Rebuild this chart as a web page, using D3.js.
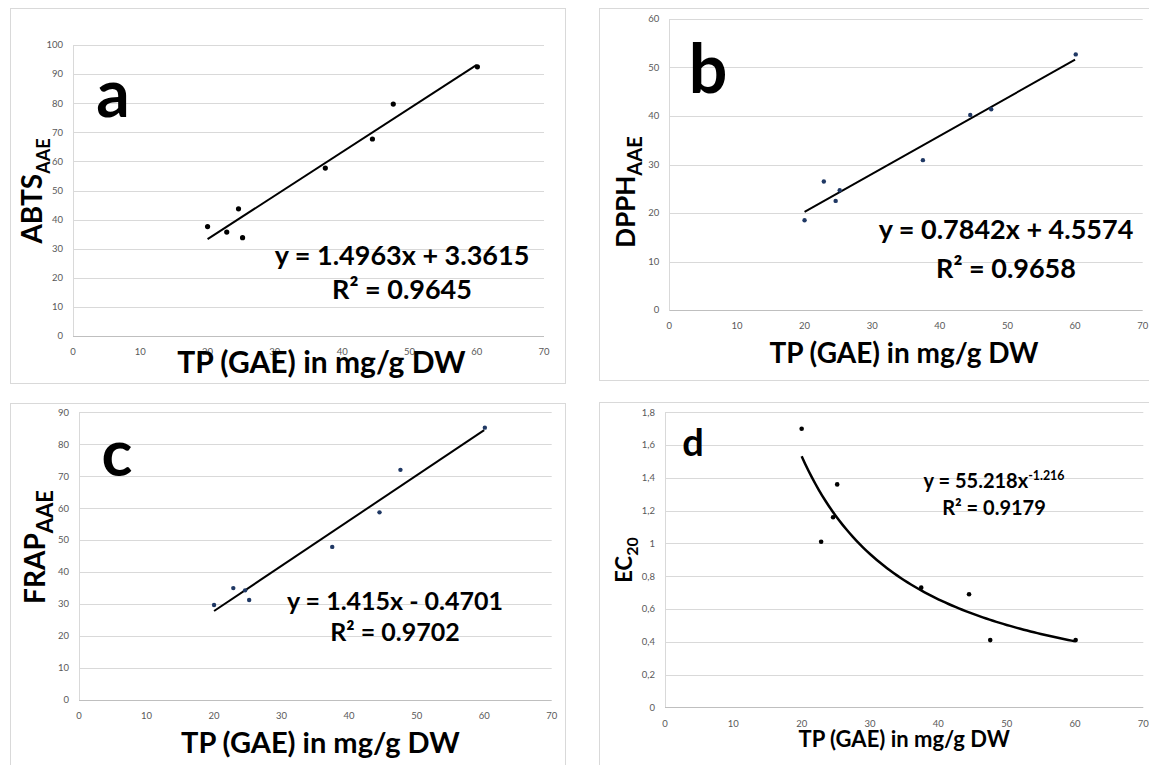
<!DOCTYPE html>
<html lang="en">
<head>
  <meta charset="UTF-8">
  <title>TP correlations</title>
  <script src="https://cdn.jsdelivr.net/npm/d3@7"></script>
  <style>
    body { margin: 0; background: #fff; }
    text { font-family: Lato, "Open Sans", sans-serif; }
  </style>
</head>
<body>
<script>
// total phenolics (x), shared by all four panels
var tp = [20, 22.85, 24.6, 25.2, 37.5, 44.5, 47.6, 60.1];
var abts = [37.6, 35.7, 43.7, 33.8, 57.7, 67.7, 79.7, 92.5];
var dpph = [18.5, 26.5, 22.5, 24.7, 30.9, 40.2, 41.4, 52.7];
var frap = [29.7, 35.0, 34.3, 31.3, 47.9, 58.7, 72.0, 85.2];
var ec20 = [1.70, 1.01, 1.16, 1.36, 0.73, 0.69, 0.41, 0.41];

var xTicks = [0, 10, 20, 30, 40, 50, 60, 70];
var yTicksA = [0, 10, 20, 30, 40, 50, 60, 70, 80, 90, 100];
var yTicksB = [0, 10, 20, 30, 40, 50, 60];
var yTicksC = [0, 10, 20, 30, 40, 50, 60, 70, 80, 90];
var yTicksD = [0, 0.2, 0.4, 0.6, 0.8, 1, 1.2, 1.4, 1.6, 1.8];

// trend lines: linear [slope, intercept], power [coef, exponent]
var trendRange = [20, 60];
var trendA = [1.4963, 3.3615];
var trendB = [0.7842, 4.5574];
var trendC = [1.415, -0.4701];
var trendD = [58.5, -1.216];

var eqA = ["y = 1.4963x + 3.3615", "R\u00b2 = 0.9645"];
var eqB = ["y = 0.7842x + 4.5574", "R\u00b2 = 0.9658"];
var eqC = ["y = 1.415x - 0.4701", "R\u00b2 = 0.9702"];
var eqD = ["y = 55.218x", "-1.216", "R\u00b2 = 0.9179"];

var width = 1149, height = 765;
var svg = d3.select("body").append("svg")
    .attr("width", width).attr("height", height);

function panel(p) {
  var g = svg.append("g");
  g.append("rect")
    .attr("x", p.box[0] + 0.5).attr("y", p.box[1] + 0.5)
    .attr("width", p.box[2]).attr("height", p.box[3])
    .attr("fill", "#fff").attr("stroke", "#d9d9d9");

  var x = d3.scaleLinear().domain([0, 70]).range([p.plot[0], p.plot[1]]);
  var y = d3.scaleLinear().domain([0, p.ymax]).range([p.plot[3], p.plot[2]]);

  // horizontal grid
  g.selectAll(".grid").data(p.yTicks.slice(1)).enter().append("line")
    .attr("x1", x(0)).attr("x2", x(70))
    .attr("y1", function(d) { return Math.round(y(d)) + 0.5; })
    .attr("y2", function(d) { return Math.round(y(d)) + 0.5; })
    .attr("stroke", "#d9d9d9").attr("stroke-width", 1);
  g.append("line")
    .attr("x1", Math.round(x(0)) + 0.5).attr("x2", Math.round(x(0)) + 0.5)
    .attr("y1", y(p.ymax)).attr("y2", y(0))
    .attr("stroke", "#d9d9d9");
  g.append("line")
    .attr("x1", x(0)).attr("x2", x(70))
    .attr("y1", Math.round(y(0)) + 0.5).attr("y2", Math.round(y(0)) + 0.5)
    .attr("stroke", "#bfbfbf");

  // tick labels
  g.selectAll(".yt").data(p.yTicks).enter().append("text")
    .attr("x", x(0) - 10).attr("y", function(d) { return y(d); })
    .attr("dy", "0.35em").attr("text-anchor", "end")
    .attr("font-size", 9.5).attr("fill", "#595959")
    .text(p.fmt);
  g.selectAll(".xt").data(xTicks).enter().append("text")
    .attr("x", function(d) { return x(d); }).attr("y", y(0) + 16)
    .attr("dy", "0.35em").attr("text-anchor", "middle")
    .attr("font-size", 9.5).attr("fill", "#595959")
    .text(function(d) { return d; });

  // trend line
  var pts;
  if (p.power) {
    pts = d3.range(trendRange[0], trendRange[1] + 0.5, 0.5).map(function(v) {
      return [v, p.trend[0] * Math.pow(v, p.trend[1])];
    });
  } else {
    pts = trendRange.map(function(v) { return [v, p.trend[0] * v + p.trend[1]]; });
  }
  g.append("path")
    .attr("d", d3.line().x(function(d) { return x(d[0]); }).y(function(d) { return y(d[1]); })(pts))
    .attr("fill", "none").attr("stroke", "#000").attr("stroke-width", p.lw);

  // points
  g.selectAll(".pt").data(tp).enter().append("circle")
    .attr("cx", function(d) { return x(d); })
    .attr("cy", function(d, i) { return y(p.values[i]); })
    .attr("r", p.r).attr("fill", p.dot);

  // big panel letter
  g.append("text").attr("x", p.letter[0]).attr("y", p.letter[1])
    .attr("text-anchor", "middle").attr("font-weight", "bold")
    .attr("font-size", p.letter[2]).attr("fill", "#000").text(p.name);

  // axis titles
  g.append("text").attr("x", (p.plot[0] + p.plot[1]) / 2 + p.xt[0]).attr("y", p.xt[1])
    .attr("text-anchor", "middle").attr("font-weight", "bold")
    .attr("font-size", p.xt[2]).text("TP (GAE) in mg/g DW");
  var yt = g.append("text")
    .attr("transform", "translate(" + p.yt[0] + "," + p.yt[1] + ") rotate(-90)")
    .attr("text-anchor", "middle").attr("font-weight", "bold")
    .attr("font-size", p.yt[2]);
  yt.append("tspan").text(p.ylab[0]);
  yt.append("tspan").attr("dy", p.yt[2] * 0.28).attr("font-size", p.yt[3]).text(p.ylab[1]);

  // equation
  var eq = g.append("text").attr("text-anchor", "middle").attr("font-weight", "bold")
    .attr("font-size", p.eq[3]);
  if (p.power) {
    var l1 = eq.append("tspan").attr("x", p.eq[0]).attr("y", p.eq[1]);
    l1.append("tspan").text(p.eqText[0]);
    l1.append("tspan").attr("dy", -8).attr("font-size", p.eq[3] * 0.62).text(p.eqText[1]);
    eq.append("tspan").attr("x", p.eq[0]).attr("y", p.eq[2]).text(p.eqText[2]);
  } else {
    eq.append("tspan").attr("x", p.eq[0]).attr("y", p.eq[1]).text(p.eqText[0]);
    eq.append("tspan").attr("x", p.eq[0]).attr("y", p.eq[2]).text(p.eqText[1]);
  }
}

var fmtInt = function(d) { return d; };
var fmtComma = function(d) { return String(+d.toFixed(1)).replace(".", ","); };

panel({ name: "a", box: [10, 8, 555, 375], plot: [73, 544, 45, 336], ymax: 100,
  yTicks: yTicksA, fmt: fmtInt, values: abts, trend: trendA, lw: 2, r: 2.6, dot: "#000",
  letter: [113, 117, 66], xt: [13, 373, 30], yt: [42, 191, 28, 18], ylab: ["ABTS", "AAE"],
  eq: [402, 265, 299, 27], eqText: eqA });

panel({ name: "b", box: [599, 8, 600, 372], plot: [669.3, 1142.7, 19, 310], ymax: 60,
  yTicks: yTicksB, fmt: fmtInt, values: dpph, trend: trendB, lw: 2, r: 2.2, dot: "#1f3864",
  letter: [708, 93, 68], xt: [-2, 363, 28], yt: [635, 192, 26, 20], ylab: ["DPPH", "AAE"],
  eq: [1006, 239, 278, 27], eqText: eqB });

panel({ name: "c", box: [10, 403, 555, 400], plot: [79, 551.7, 412.3, 700], ymax: 90,
  yTicks: yTicksC, fmt: fmtInt, values: frap, trend: trendC, lw: 2, r: 2.2, dot: "#1f3864",
  letter: [117, 476, 64], xt: [5, 753, 29], yt: [45, 547, 28, 22], ylab: ["FRAP", "AAE"],
  eq: [395, 610, 641, 25], eqText: eqC });

panel({ name: "d", box: [599, 402, 600, 400], plot: [665, 1143.3, 412.3, 707.3], ymax: 1.8,
  yTicks: yTicksD, fmt: fmtComma, values: ec20, trend: trendD, power: true, lw: 2.5, r: 2.3, dot: "#000",
  letter: [693, 456, 38], xt: [0, 747, 22], yt: [632, 560, 22, 16], ylab: ["EC", "20"],
  eq: [994, 488, 515, 20], eqText: eqD });
</script>
</body>
</html>
